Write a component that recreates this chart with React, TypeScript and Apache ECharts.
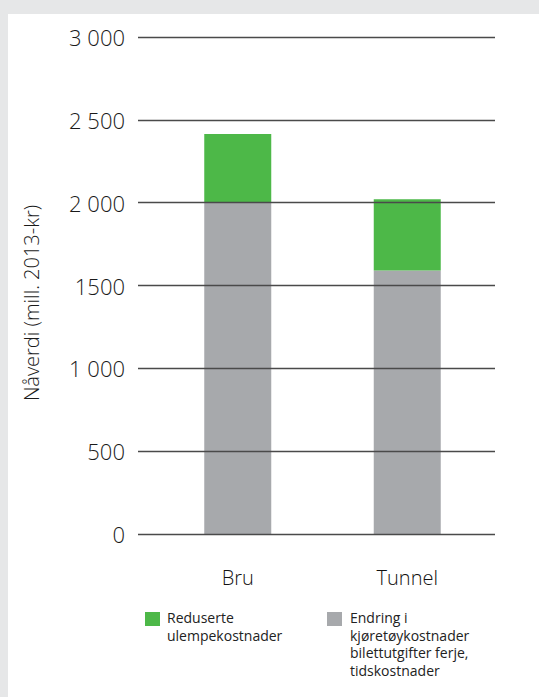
import React, { useEffect, useRef } from "react";
import * as echarts from "echarts";

const categories = ["Bru", "Tunnel"];
const seriesNames = ["Endring i kjøretøykostnader", "Reduserte ulempekostnader"];
const grayValues = [2000, 1590];
const greenValues = [415, 430];
const yTickLabels: Record<number, string> = {
  0: "0",
  500: "500",
  1000: "1 000",
  1500: "1500",
  2000: "2 000",
  2500: "2 500",
  3000: "3 000",
};
const yAxisTitle = "Nåverdi (mill. 2013-kr)";
const legendGreenLines = ["Reduserte", "ulempekostnader"];
const legendGrayLines = ["Endring i", "kjøretøykostnader", "bilettutgifter ferje,", "tidskostnader"];

const GREEN = "#4db848";
const GRAY = "#a7a9ac";
const FONT = "'Open Sans', 'DejaVu Sans', sans-serif";

export default function App() {
  const ref = useRef<HTMLDivElement>(null);
  useEffect(() => {
    document.body.style.margin = "0";
    const chart = echarts.init(ref.current!, null, { renderer: "svg" });
    chart.setOption({
      animation: false,
      backgroundColor: "#e6e7e8",
      textStyle: { fontFamily: FONT },
      grid: [
        { left: 138, right: 44, top: 37, bottom: 163 },
        { left: 153, right: 47, top: 37, bottom: 163 },
      ],
      xAxis: [
        { type: "value", gridIndex: 0, show: false, min: 0, max: 1 },
        {
          type: "category",
          gridIndex: 1,
          data: categories,
          axisLine: { show: false },
          axisTick: { show: false },
          axisLabel: { margin: 33, fontSize: 20, fontWeight: 300, color: "#111", fontFamily: FONT },
        },
      ],
      yAxis: [
        {
          type: "value",
          gridIndex: 0,
          min: 0,
          max: 3000,
          interval: 500,
          z: 10,
          axisLine: { show: false },
          axisTick: { show: false },
          axisLabel: {
            margin: 13,
            fontSize: 22,
            fontWeight: 300,
            color: "#1a1a1a",
            fontFamily: FONT,
            formatter: (v: number) => yTickLabels[v] ?? String(v),
          },
          splitLine: { lineStyle: { color: "#4a4a4a", width: 1.3 } },
        },
        { type: "value", gridIndex: 1, min: 0, max: 3000, show: false, splitLine: { show: false } },
      ],
      series: [
        {
          name: seriesNames[0],
          type: "bar",
          stack: "total",
          xAxisIndex: 1,
          yAxisIndex: 1,
          barWidth: 67,
          data: grayValues,
          itemStyle: { color: GRAY },
        },
        {
          name: seriesNames[1],
          type: "bar",
          stack: "total",
          xAxisIndex: 1,
          yAxisIndex: 1,
          barWidth: 67,
          data: greenValues,
          itemStyle: { color: GREEN },
        },
      ],
      graphic: [
        { type: "rect", z: -100, shape: { x: 8, y: 14, width: 531, height: 683 }, style: { fill: "#ffffff" } },
        {
          type: "text",
          x: 31,
          y: 303,
          rotation: Math.PI / 2,
          style: {
            text: yAxisTitle,
            fontSize: 20,
            fontWeight: 300,
            fill: "#1a1a1a",
            fontFamily: FONT,
            align: "center",
            verticalAlign: "middle",
          },
        },
        { type: "rect", shape: { x: 145, y: 612, width: 15, height: 14 }, style: { fill: GREEN } },
        {
          type: "text",
          x: 167,
          y: 609,
          style: { text: legendGreenLines.join("\n"), fontSize: 14, lineHeight: 17.5, fill: "#222", fontFamily: FONT },
        },
        { type: "rect", shape: { x: 327, y: 612, width: 15, height: 14 }, style: { fill: GRAY } },
        {
          type: "text",
          x: 350,
          y: 609,
          style: { text: legendGrayLines.join("\n"), fontSize: 14, lineHeight: 17.5, fill: "#222", fontFamily: FONT },
        },
      ],
    });
    return () => chart.dispose();
  }, []);
  return <div ref={ref} style={{ position: "absolute", left: 0, top: 0, width: 539, height: 697 }} />;
}
